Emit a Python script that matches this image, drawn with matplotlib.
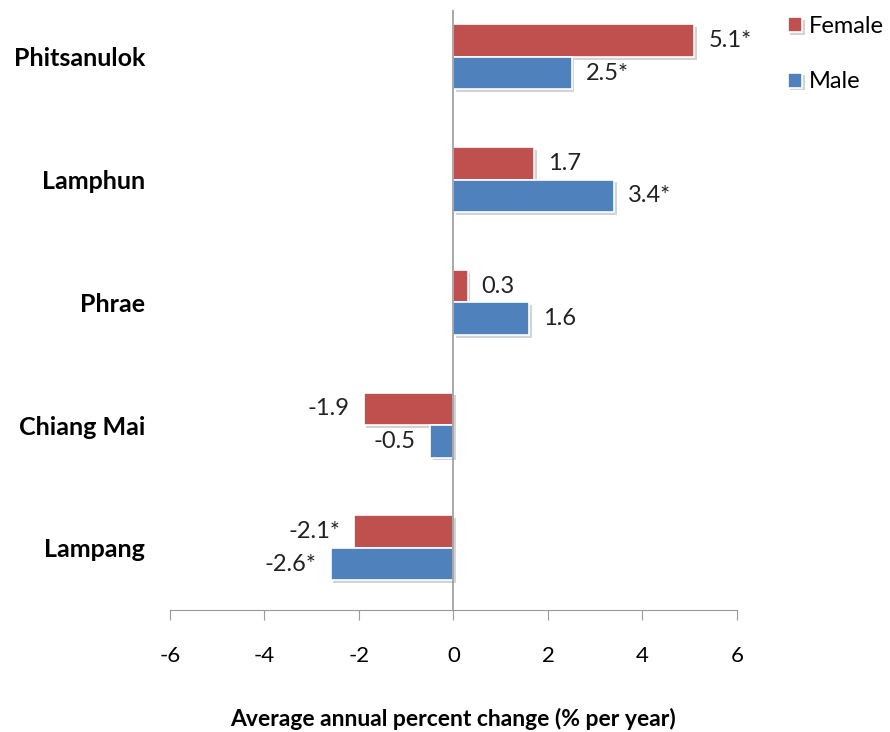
import matplotlib.pyplot as plt
import matplotlib.patheffects as pe
import numpy as np

plt.rcParams['font.family'] = ['Lato', 'DejaVu Sans']

# data (top to bottom in the chart)
provinces = ["Phitsanulok", "Lamphun", "Phrae", "Chiang Mai", "Lampang"]
female = [5.1, 1.7, 0.3, -1.9, -2.1]
male = [2.5, 3.4, 1.6, -0.5, -2.6]
female_labels = ["5.1*", "1.7", "0.3", "-1.9", "-2.1*"]
male_labels = ["2.5*", "3.4*", "1.6", "-0.5", "-2.6*"]
xticks = [-6, -4, -2, 0, 2, 4, 6]

red = "#C0504D"
blue = "#4F81BD"

fig = plt.figure(figsize=(8.9, 7.32), dpi=100)
ax = fig.add_axes([0.191, 0.167, 0.637, 0.819])

y = np.arange(len(provinces))[::-1]
h = 0.265
shadow = [pe.SimplePatchShadow(offset=(2, -2), alpha=0.2), pe.Normal()]

bf = ax.barh(y + h / 2, female, height=h, color=red, edgecolor="white",
             linewidth=1.2, label="Female", path_effects=shadow)
bm = ax.barh(y - h / 2, male, height=h, color=blue, edgecolor="white",
             linewidth=1.2, label="Male", path_effects=shadow)

for bars, labs in [(bf, female_labels), (bm, male_labels)]:
    for b, lab in zip(bars, labs):
        v = b.get_width()
        ax.annotate(lab, (v, b.get_y() + b.get_height() / 2),
                    xytext=(10 if v >= 0 else -10, 0), textcoords="offset points",
                    ha="left" if v >= 0 else "right", va="center", fontsize=17,
                    color="#222222")

ax.set_xlim(-6, 6)
ax.set_ylim(-0.505, 4.38)
ax.set_xticks(xticks)
ax.set_xticklabels([str(t) for t in xticks], fontsize=16)
ax.tick_params(axis="x", length=7, color="#999999", pad=19)
ax.set_yticks(y)
ax.set_yticklabels(provinces, fontsize=18, fontweight="bold")
ax.tick_params(axis="y", length=0, pad=18)

ax.spines["top"].set_visible(False)
ax.spines["right"].set_visible(False)
ax.spines["left"].set_visible(False)
ax.spines["bottom"].set_color("#999999")
ax.axvline(0, color="#999999", lw=1.2)

ax.set_xlabel("Average annual percent change (% per year)", fontsize=16.5,
              fontweight="bold", labelpad=30)

fig.legend(handles=[bf, bm], loc="upper left", bbox_to_anchor=(0.885, 0.978),
           frameon=False, fontsize=17, handlelength=0.6, handleheight=0.6,
           handletextpad=0.3, labelspacing=1.45, borderpad=0, borderaxespad=0)

fig.savefig("out.png", dpi=100)
